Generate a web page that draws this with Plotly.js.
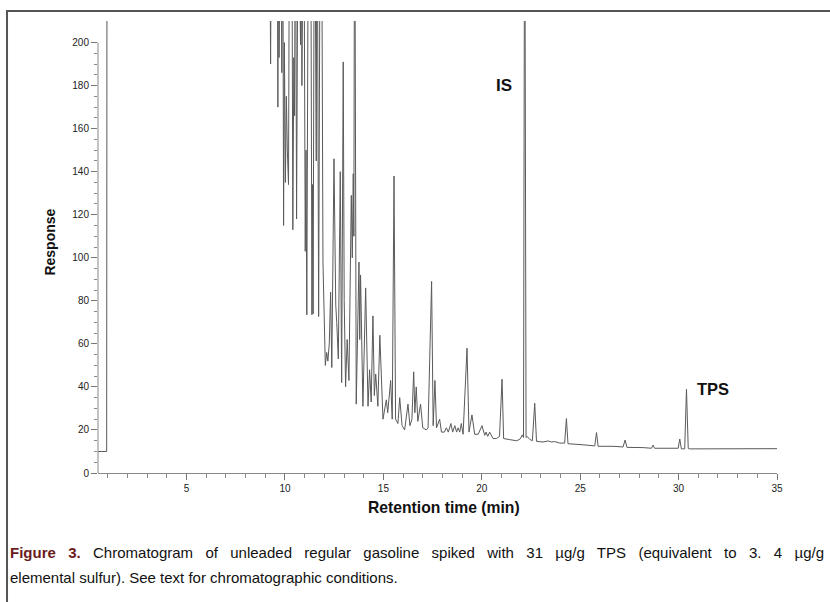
<!DOCTYPE html>
<html>
<head>
<meta charset="utf-8">
<script src="https://cdn.plot.ly/plotly-3.0.1.min.js"></script>
<style>
  html, body { margin: 0; padding: 0; background: #fff; }
  #chart { width: 830px; height: 602px; }
</style>
</head>
<body>
<div id="chart"></div>
<script>
// Retention time (min) and detector response
// (values above the axis top are off-scale and get clipped)
const rtMin = [
  0.50, 0.94, 0.96, 9.20, 9.27, 9.33, 9.60, 9.64, 9.67, 9.70, 9.74, 9.80, 9.84, 9.88, 9.93, 9.97,
  10.02, 10.07, 10.12, 10.18, 10.24, 10.34, 10.40, 10.45, 10.49, 10.53, 10.59, 10.68, 10.79, 10.82, 10.86, 10.95,
  11.03, 11.07, 11.11, 11.20, 11.30, 11.37, 11.40, 11.43, 11.50, 11.59, 11.63, 11.71, 11.80, 11.85, 11.93,
  12.05, 12.12, 12.18, 12.25, 12.32, 12.38, 12.49, 12.58, 12.63, 12.71, 12.81, 12.88, 12.96,
  13.01, 13.08, 13.16, 13.25, 13.37, 13.42, 13.47, 13.50, 13.54, 13.62, 13.76, 13.80, 13.84, 13.96,
  14.10, 14.22, 14.30, 14.38, 14.47, 14.54, 14.61, 14.72, 14.82, 14.98,
  15.07, 15.15, 15.22, 15.37, 15.45, 15.54, 15.62, 15.74, 15.83, 15.95,
  16.08, 16.25, 16.35, 16.45, 16.54, 16.60, 16.67, 16.75, 16.89,
  17.00, 17.18, 17.27, 17.45, 17.53, 17.62, 17.70, 17.86, 17.95,
  18.10, 18.20, 18.30, 18.43, 18.52, 18.63, 18.72, 18.80, 18.88, 18.96,
  19.05, 19.25, 19.35, 19.50, 19.64, 19.82,
  20.01, 20.15, 20.22, 20.30, 20.40, 20.57, 20.74, 20.90,
  21.03, 21.11, 21.42, 21.76, 21.93,
  22.06, 22.12, 22.18, 22.25, 22.30, 22.44, 22.57, 22.69, 22.78,
  23.11, 23.37, 23.54, 23.71, 23.96,
  24.21, 24.30, 24.38, 25.15, 25.74, 25.83, 25.91, 26.67,
  27.18, 27.28, 27.38, 28.20, 28.62, 28.70, 28.78, 29.98,
  30.06, 30.14, 30.31, 30.40, 30.49, 30.56, 31.40, 35.00
];
const response = [
  10, 10, 300, 300, 190, 300, 300, 170, 300, 193, 300, 300, 186, 300, 115, 200,
  135, 175, 150, 134, 300, 300, 113, 193, 166, 300, 118, 300, 199, 300, 180, 300,
  103, 150, 73.5, 300, 300, 73.5, 134, 74, 300, 145, 300, 72.7, 300, 300, 98,
  50, 56, 52, 60, 84, 49, 146, 78, 70, 53, 140, 42, 191,
  80, 40, 62, 43, 129, 100, 139, 110, 300, 32, 98, 62, 92, 31,
  86, 31, 48, 33, 73, 36, 46, 31, 64, 25,
  31, 34, 28, 43, 25, 138, 25, 23, 35, 22,
  20, 32, 22, 25, 47, 28, 40, 24, 32,
  21, 20, 21, 89, 22, 43, 21, 25, 19,
  19, 21, 19, 23, 19, 22, 19, 21, 19, 23,
  18, 58, 19, 27, 18, 18,
  22, 17.5, 19, 17, 19, 16, 16, 17,
  43.6, 16, 15.5, 15, 15.6,
  17.7, 16.5, 300, 16.5, 17, 15.6, 15, 32.4, 14.7,
  14.4, 14.9, 14.4, 14.6, 13.9,
  13.9, 25.3, 13.6, 13.1, 12.6, 18.8, 12.4, 12.4,
  12.1, 15.3, 11.9, 11.8, 11.5, 13.0, 11.5, 11.5,
  15.8, 11.2, 11.2, 38.9, 11.4, 11.2, 11.2, 11.3
];

const xMajorTicks = [5, 10, 15, 20, 25, 30, 35];
const yMajorTicks = [0, 20, 40, 60, 80, 100, 120, 140, 160, 180, 200];
const yMinorTicks = [];
for (let v = 5; v < 200; v += 5) { if (v % 20 !== 0) yMinorTicks.push(v); }

const peakLabels = ['IS', 'TPS'];
const peakLabelPos = [[21.15, 180], [31.75, 39]];

const sans = 'Liberation Sans, Arial, sans-serif';

const trace = {
  x: rtMin, y: response, type: 'scatter', mode: 'lines',
  line: { color: '#5a5a5a', width: 1 },
  hoverinfo: 'skip', showlegend: false
};

const annotations = [
  { text: '<b>' + peakLabels[0] + '</b>', x: peakLabelPos[0][0], y: peakLabelPos[0][1], xref: 'x', yref: 'y',
    showarrow: false, font: { family: sans, size: 17, color: '#111' } },
  { text: '<b>' + peakLabels[1] + '</b>', x: peakLabelPos[1][0], y: peakLabelPos[1][1], xref: 'x', yref: 'y',
    showarrow: false, font: { family: sans, size: 16.5, color: '#111' } },
  { text: '<b>Response</b>', textangle: -90, x: -0.0707, y: 0.512, xref: 'paper', yref: 'paper',
    showarrow: false, xanchor: 'center', yanchor: 'middle', font: { family: sans, size: 14, color: '#111' } },
  { text: '<b>Retention time (min)</b>', x: 0.51, y: -0.077, xref: 'paper', yref: 'paper',
    showarrow: false, xanchor: 'center', yanchor: 'middle', font: { family: sans, size: 15.7, color: '#111' } },
  { text: '<b><span style="color:#6a1c1c">Figure 3.</span></b> Chromatogram of unleaded regular gasoline spiked with 31 µg/g TPS (equivalent to 3. 4 µg/g',
    x: -0.1325, y: -0.1748, xref: 'paper', yref: 'paper', showarrow: false, xanchor: 'left', yanchor: 'middle',
    align: 'left', font: { family: sans, size: 15, color: '#111' } },
  { text: 'elemental sulfur). See text for chromatographic conditions.',
    x: -0.1325, y: -0.2323, xref: 'paper', yref: 'paper', showarrow: false, xanchor: 'left', yanchor: 'middle',
    align: 'left', font: { family: sans, size: 15, color: '#111' } }
];

const layout = {
  width: 830, height: 602,
  margin: { l: 98, r: 53, t: 21, b: 129 },
  paper_bgcolor: '#fff', plot_bgcolor: '#fff',
  showlegend: false,
  xaxis: {
    range: [0.5, 35], tickmode: 'array', tickvals: xMajorTicks, ticktext: xMajorTicks.map(String),
    ticks: 'outside', ticklen: 6, tickcolor: '#777', tickwidth: 1,
    minor: { ticks: 'outside', dtick: 1, tick0: 0, ticklen: 4, tickcolor: '#888', tickwidth: 1 },
    showline: true, linecolor: '#888', linewidth: 1, showgrid: false, zeroline: false,
    tickfont: { family: sans, size: 10, color: '#222' }
  },
  yaxis: {
    range: [0, 210], tickmode: 'array', tickvals: yMajorTicks, ticktext: yMajorTicks.map(String),
    ticks: 'outside', ticklen: 6, tickcolor: '#777', tickwidth: 1,
    minor: { ticks: 'outside', tickmode: 'array', tickvals: yMinorTicks, ticklen: 3, tickcolor: '#888', tickwidth: 1 },
    showline: false, showgrid: false, zeroline: false,
    tickfont: { family: sans, size: 10, color: '#222' }
  },
  shapes: [
    { type: 'line', xref: 'paper', yref: 'y', x0: 0, x1: 0, y0: 0, y1: 200, line: { color: '#888', width: 1 } },
    { type: 'rect', xref: 'paper', yref: 'paper', x0: -0.134, x1: 1.09, y0: -0.31, y1: 1.022,
      line: { color: '#555', width: 2 }, fillcolor: 'rgba(0,0,0,0)' }
  ],
  annotations: annotations
};

Plotly.newPlot('chart', [trace], layout, { staticPlot: true }).then(function () {
  // justify the first caption line to the full caption width, as in the printed figure
  const texts = document.querySelectorAll('.annotation-text');
  texts.forEach(function (t) {
    if (t.textContent.indexOf('Figure 3.') === 0) {
      const len = t.getComputedTextLength();
      const spaces = (t.textContent.match(/ /g) || []).length;
      const target = 814;
      if (spaces > 0 && len < target) {
        t.style.wordSpacing = ((target - len) / spaces) + 'px';
      }
    }
  });
});
</script>
</body>
</html>
